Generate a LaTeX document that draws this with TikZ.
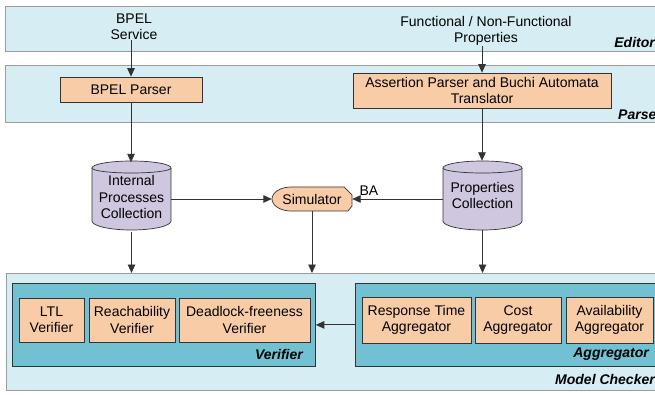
\documentclass[tikz,border=0pt]{standalone}
\usepackage{fontspec}
\setmainfont{Liberation Sans}
\usetikzlibrary{arrows.meta}
\definecolor{bandfill}{HTML}{D5EDF3}
\definecolor{bandline}{HTML}{9C9C9C}
\definecolor{boxfill}{HTML}{F9CCA8}
\definecolor{tealfill}{HTML}{72C1D3}
\definecolor{cylfill}{HTML}{CFC6DF}
\definecolor{ink}{HTML}{333333}
\begin{document}
\begin{tikzpicture}[x=1pt,y=-1pt,
  font=\fontsize{14}{16.5}\selectfont,
  bandbox/.style={draw=bandline, line width=1.3pt, fill=bandfill, anchor=north west, inner sep=0pt},
  groupbox/.style={draw=ink, line width=0.8pt, fill=tealfill, anchor=north west, inner sep=0pt},
  obox/.style={draw=ink, line width=0.7pt, fill=boxfill, align=center, inner sep=0pt},
  cylpath/.style={draw=ink, line width=0.7pt, fill=cylfill},
  lab/.style={font=\fontsize{14}{16.5}\selectfont\bfseries\itshape, inner sep=0pt},
  txt/.style={align=center, inner sep=0pt},
  arr/.style={draw=ink, line width=0.9pt, -{Triangle[length=8.5pt,width=7.5pt]}}
]
\useasboundingbox (0,0) rectangle (655,395);

% bands
\node[bandbox, minimum width=657pt, minimum height=45pt] (editor) at (5,6) {};
\node[bandbox, minimum width=657pt, minimum height=57pt] (parser) at (5,65) {};
\node[bandbox, minimum width=656pt, minimum height=117pt] (mc) at (6,273) {};
\node[groupbox, minimum width=303pt, minimum height=83pt] (ver) at (12,283) {};
\node[groupbox, minimum width=307pt, minimum height=83pt] (agg) at (355,283) {};

% band labels
\node[lab, anchor=east] (editorlab) at (655,43) {Editor};
\node[lab, anchor=west] (parserlab) at (618,115) {Parser};
\node[lab, anchor=east] (mclab) at (655,379) {Model Checker};
\node[lab, anchor=east] (verlab) at (303,354) {Verifier};
\node[lab, anchor=east] (agglab) at (649,354) {Aggregator};

% editor texts
\node[txt] (bpel) at (134,27) {BPEL\\Service};
\node[txt] (props) at (486,31) {Functional / Non-Functional\\Properties};

% parser boxes
\node[obox, minimum width=142pt, minimum height=25pt] (bparser) at (131,89.5) {BPEL Parser};
\node[obox, minimum width=258pt, minimum height=35pt] (aparser) at (482,90.5) {Assertion Parser and Buchi Automata\\Translator};

% cylinders
\foreach \cx in {131.5,482.5}{
  \draw[cylpath] (\cx-39.5,168) -- (\cx-39.5,221)
     arc[start angle=180, end angle=360, x radius=39.5pt, y radius=9pt]
     -- (\cx+39.5,168)
     arc[start angle=0, end angle=180, x radius=39.5pt, y radius=7pt] -- cycle;
  \draw[draw=ink, line width=0.7pt] (\cx-39.5,168)
     arc[start angle=180, end angle=360, x radius=39.5pt, y radius=5pt];
}
\node[txt, minimum width=79pt, minimum height=69pt] (ipc) at (131.5,197) {Internal\\Processes\\Collection};
\node[txt, minimum width=79pt, minimum height=69pt] (pc) at (482.5,195.5) {Properties\\Collection};

% simulator
\draw[draw=ink, line width=0.7pt, fill=boxfill] (291,187) -- (344,187) -- (352,195) -- (352,206) -- (348,211) -- (291,211)
   arc[start angle=270, end angle=90, x radius=19pt, y radius=12pt] -- cycle;
\node[txt, minimum width=80pt, minimum height=24pt] (sim) at (312,199) {Simulator};

% verifier boxes
\node[obox, minimum width=65pt, minimum height=44pt] (ltl) at (51.5,320) {LTL\\Verifier};
\node[obox, minimum width=86pt, minimum height=44pt] (reach) at (132,320) {Reachability\\Verifier};
\node[obox, minimum width=131pt, minimum height=44pt] (dead) at (244.5,320) {Deadlock-freeness\\Verifier};

% aggregator boxes
\node[obox, minimum width=109pt, minimum height=46pt] (resp) at (416.5,320) {Response Time\\Aggregator};
\node[obox, minimum width=86pt, minimum height=46pt] (cost) at (518,320) {Cost\\Aggregator};
\node[obox, minimum width=87pt, minimum height=46pt] (avail) at (609.5,320) {Availability\\Aggregator};

% connectors
\draw[arr] (bparser.north |- bpel.south) -- (bparser.north);
\draw[arr] (aparser.north |- props.south) -- (aparser.north);
\draw[arr] (bparser.south) -- (bparser.south |- ipc.north);
\draw[arr] (aparser.south) -- (aparser.south |- pc.north);
\draw[arr] (sim.west -| ipc.east) -- (sim.west);
\draw[arr] (sim.east -| pc.west) -- node[pos=1, anchor=south west, inner sep=0pt, xshift=7pt, yshift=3pt] (ba) {BA} (sim.east);
\draw[arr] (ipc.south) -- (ipc.south |- mc.north);
\draw[arr] (sim.south) -- (sim.south |- mc.north);
\draw[arr] (pc.south) -- (pc.south |- mc.north);
\draw[arr] (agg.west) -- (ver.east);
\end{tikzpicture}
\end{document}
